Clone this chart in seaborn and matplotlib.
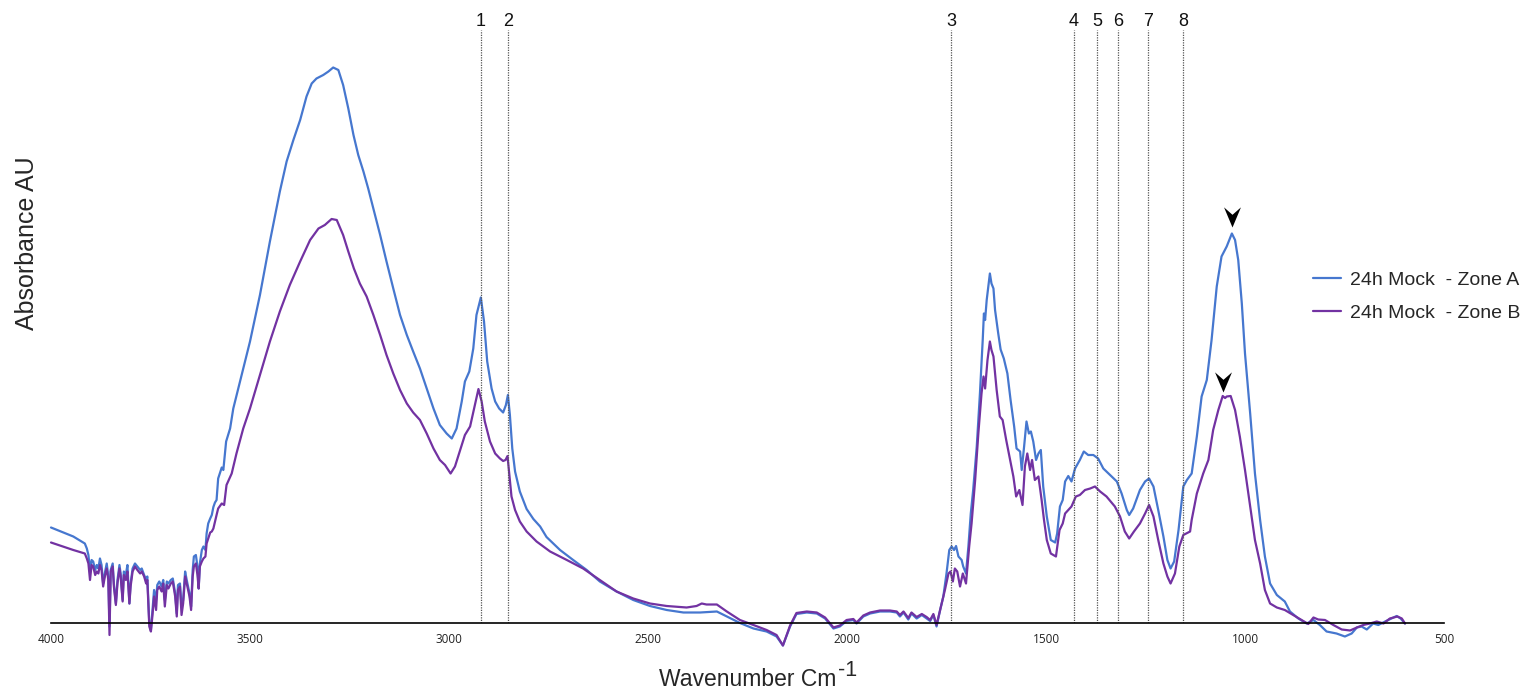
import matplotlib
matplotlib.use("Agg")
import matplotlib.pyplot as plt
import numpy as np
import pandas as pd
import seaborn as sns
from matplotlib.path import Path
from matplotlib.lines import Line2D

# ---- FTIR spectra (wavenumber in cm-1, absorbance in arbitrary units) ----
wavenumber_a = [
    4000, 3944, 3915, 3910, 3906, 3902, 3898, 3894, 3889, 3885, 3881, 3877, 3873, 3869,
    3864, 3860, 3856, 3853, 3850, 3845, 3842, 3837, 3833, 3828, 3825, 3820, 3817, 3812,
    3808, 3803, 3800, 3795, 3789, 3783, 3776, 3772, 3766, 3761, 3758, 3753, 3749, 3745,
    3741, 3736, 3733, 3728, 3722, 3718, 3714, 3709, 3705, 3699, 3694, 3688, 3684, 3681,
    3676, 3672, 3668, 3663, 3659, 3652, 3648, 3644, 3641, 3636, 3632, 3629, 3626, 3621,
    3617, 3612, 3609, 3605, 3600, 3596, 3592, 3588, 3584, 3580, 3571, 3567, 3560, 3550,
    3542, 3525, 3500, 3475, 3450, 3425, 3408, 3391, 3374, 3358, 3345, 3333, 3316, 3303,
    3291, 3278, 3266, 3253, 3240, 3228, 3215, 3203, 3190, 3173, 3157, 3140, 3123, 3106,
    3090, 3073, 3056, 3039, 3023, 3006, 2993, 2981, 2968, 2960, 2949, 2939, 2931, 2920,
    2912, 2904, 2893, 2884, 2874, 2864, 2857, 2852, 2847, 2841, 2834, 2822, 2805, 2788,
    2771, 2755, 2721, 2688, 2654, 2621, 2579, 2537, 2495, 2453, 2411, 2369, 2327, 2302,
    2269, 2235, 2202, 2177, 2161, 2143, 2127, 2101, 2076, 2055, 2034, 2018, 2001, 1984,
    1976, 1959, 1942, 1917, 1892, 1875, 1867, 1858, 1846, 1838, 1825, 1812, 1800, 1791,
    1783, 1775, 1766, 1758, 1750, 1743, 1737, 1731, 1726, 1720, 1712, 1708, 1701, 1695,
    1689, 1683, 1674, 1666, 1659, 1656, 1653, 1649, 1645, 1641, 1637, 1632, 1628, 1620,
    1614, 1606, 1597, 1589, 1580, 1574, 1565, 1561, 1555, 1549, 1543, 1538, 1532, 1525,
    1519, 1513, 1507, 1498, 1488, 1477, 1472, 1465, 1458, 1452, 1444, 1436, 1427, 1415,
    1405, 1394, 1381, 1369, 1356, 1339, 1322, 1310, 1297, 1291, 1281, 1264, 1251, 1241,
    1230, 1218, 1205, 1195, 1187, 1178, 1167, 1155, 1146, 1134, 1121, 1109, 1096, 1084,
    1071, 1059, 1046, 1033, 1025, 1017, 1008, 1000, 987, 975, 962, 950, 937, 920,
    900, 887, 866, 845, 828, 812, 795, 770, 749, 732, 719, 707, 694, 678,
    665, 648, 632, 619, 609, 598,
]
absorbance_a = [
    0.191, 0.173, 0.159, 0.149, 0.136, 0.106, 0.126, 0.123, 0.106, 0.116, 0.109, 0.129, 0.116, 0.079,
    0.103, 0.119, 0.093, -0.007, 0.106, 0.119, 0.079, 0.039, 0.086, 0.116, 0.099, 0.046, 0.103, 0.096,
    0.116, 0.039, 0.079, 0.109, 0.119, 0.113, 0.106, 0.109, 0.096, 0.086, 0.093, -0.001, -0.014, 0.026,
    0.066, 0.046, 0.076, 0.083, 0.073, 0.086, 0.046, 0.083, 0.079, 0.086, 0.089, 0.059, 0.019, 0.076,
    0.079, 0.033, 0.046, 0.103, 0.086, 0.059, 0.033, 0.106, 0.133, 0.136, 0.113, 0.069, 0.119, 0.146,
    0.153, 0.146, 0.179, 0.199, 0.209, 0.216, 0.232, 0.241, 0.246, 0.289, 0.311, 0.306, 0.363, 0.389,
    0.429, 0.483, 0.563, 0.656, 0.763, 0.863, 0.923, 0.966, 1.006, 1.053, 1.079, 1.089, 1.096, 1.103,
    1.111, 1.106, 1.076, 1.029, 0.976, 0.936, 0.903, 0.869, 0.829, 0.776, 0.723, 0.669, 0.616, 0.576,
    0.543, 0.509, 0.469, 0.429, 0.396, 0.379, 0.369, 0.389, 0.443, 0.483, 0.503, 0.549, 0.616, 0.651,
    0.603, 0.523, 0.469, 0.443, 0.429, 0.421, 0.436, 0.456, 0.416, 0.349, 0.303, 0.263, 0.228, 0.208,
    0.193, 0.172, 0.146, 0.126, 0.106, 0.083, 0.063, 0.046, 0.034, 0.026, 0.021, 0.021, 0.023, 0.013,
    0.000, -0.011, -0.017, -0.027, -0.045, -0.007, 0.018, 0.021, 0.019, 0.009, -0.011, -0.007, 0.004, 0.006,
    -0.001, 0.013, 0.019, 0.023, 0.023, 0.021, 0.013, 0.021, 0.007, 0.019, 0.009, 0.016, 0.009, 0.004,
    0.016, -0.007, 0.026, 0.053, 0.099, 0.146, 0.153, 0.146, 0.154, 0.133, 0.126, 0.113, 0.099, 0.153,
    0.219, 0.266, 0.353, 0.459, 0.566, 0.619, 0.606, 0.646, 0.673, 0.699, 0.679, 0.669, 0.626, 0.579,
    0.547, 0.529, 0.499, 0.446, 0.393, 0.349, 0.343, 0.306, 0.353, 0.403, 0.379, 0.383, 0.363, 0.326,
    0.339, 0.346, 0.273, 0.213, 0.166, 0.161, 0.179, 0.233, 0.246, 0.283, 0.294, 0.283, 0.309, 0.326,
    0.343, 0.336, 0.336, 0.329, 0.309, 0.296, 0.283, 0.259, 0.226, 0.216, 0.229, 0.266, 0.283, 0.289,
    0.273, 0.226, 0.173, 0.126, 0.109, 0.123, 0.186, 0.273, 0.286, 0.299, 0.373, 0.453, 0.486, 0.566,
    0.673, 0.733, 0.753, 0.779, 0.766, 0.726, 0.639, 0.539, 0.419, 0.299, 0.206, 0.133, 0.079, 0.056,
    0.043, 0.023, 0.009, -0.001, 0.006, -0.004, -0.017, -0.021, -0.027, -0.021, -0.009, -0.007, -0.013, -0.001,
    -0.004, 0.003, 0.009, 0.014, 0.009, -0.001,
]

wavenumber_b = [
    4000, 3944, 3915, 3910, 3906, 3902, 3898, 3894, 3889, 3885, 3881, 3877, 3873, 3869,
    3864, 3860, 3856, 3853, 3850, 3845, 3842, 3837, 3833, 3828, 3825, 3820, 3817, 3812,
    3808, 3803, 3800, 3795, 3789, 3783, 3776, 3772, 3766, 3761, 3758, 3753, 3749, 3745,
    3741, 3736, 3733, 3728, 3722, 3718, 3714, 3709, 3705, 3699, 3694, 3688, 3684, 3681,
    3676, 3672, 3668, 3663, 3659, 3652, 3648, 3644, 3641, 3636, 3632, 3629, 3626, 3621,
    3617, 3612, 3609, 3605, 3600, 3596, 3592, 3588, 3584, 3580, 3571, 3565, 3559, 3546,
    3534, 3517, 3500, 3475, 3450, 3425, 3400, 3374, 3349, 3328, 3312, 3295, 3282, 3266,
    3253, 3239, 3224, 3207, 3190, 3173, 3157, 3140, 3123, 3106, 3090, 3073, 3056, 3039,
    3023, 3010, 2996, 2985, 2972, 2960, 2947, 2937, 2926, 2918, 2910, 2897, 2884, 2872,
    2864, 2858, 2853, 2848, 2843, 2834, 2822, 2805, 2780, 2746, 2704, 2663, 2621, 2579,
    2537, 2495, 2453, 2403, 2378, 2365, 2353, 2327, 2302, 2269, 2235, 2202, 2177, 2161,
    2143, 2127, 2101, 2076, 2055, 2034, 2018, 2001, 1984, 1976, 1959, 1942, 1917, 1892,
    1875, 1867, 1858, 1846, 1838, 1825, 1812, 1800, 1791, 1783, 1775, 1766, 1754, 1745,
    1740, 1734, 1729, 1723, 1716, 1709, 1701, 1693, 1687, 1678, 1670, 1662, 1657, 1653,
    1647, 1641, 1637, 1632, 1624, 1616, 1609, 1600, 1590, 1582, 1575, 1567, 1559, 1553,
    1547, 1540, 1535, 1528, 1519, 1511, 1505, 1498, 1488, 1475, 1466, 1458, 1452, 1444,
    1436, 1425, 1415, 1402, 1389, 1377, 1364, 1348, 1327, 1314, 1302, 1291, 1279, 1264,
    1251, 1241, 1230, 1218, 1205, 1195, 1187, 1176, 1165, 1155, 1138, 1134, 1121, 1105,
    1092, 1080, 1067, 1056, 1050, 1046, 1036, 1025, 1013, 1000, 987, 975, 962, 950,
    937, 920, 900, 879, 858, 841, 828, 816, 799, 778, 757, 736, 719, 703,
    686, 669, 652, 636, 617, 606, 598,
]
absorbance_b = [
    0.161, 0.146, 0.139, 0.129, 0.119, 0.086, 0.116, 0.113, 0.096, 0.103, 0.099, 0.116, 0.106, 0.073,
    0.096, 0.109, 0.086, -0.024, 0.103, 0.113, 0.073, 0.036, 0.079, 0.109, 0.093, 0.043, 0.096, 0.086,
    0.103, 0.039, 0.073, 0.103, 0.113, 0.106, 0.099, 0.103, 0.093, 0.079, 0.086, -0.007, -0.017, 0.016,
    0.053, 0.026, 0.066, 0.073, 0.063, 0.079, 0.033, 0.076, 0.069, 0.079, 0.083, 0.053, 0.013, 0.066,
    0.073, 0.016, 0.039, 0.093, 0.079, 0.053, 0.026, 0.093, 0.113, 0.119, 0.096, 0.069, 0.113, 0.123,
    0.129, 0.133, 0.159, 0.169, 0.181, 0.183, 0.189, 0.203, 0.216, 0.229, 0.239, 0.236, 0.276, 0.299,
    0.339, 0.389, 0.429, 0.496, 0.563, 0.623, 0.676, 0.723, 0.766, 0.789, 0.796, 0.808, 0.806, 0.776,
    0.743, 0.709, 0.679, 0.653, 0.616, 0.576, 0.536, 0.499, 0.466, 0.439, 0.421, 0.406, 0.379, 0.349,
    0.326, 0.316, 0.299, 0.313, 0.346, 0.376, 0.393, 0.429, 0.468, 0.443, 0.403, 0.363, 0.339, 0.329,
    0.324, 0.326, 0.334, 0.293, 0.253, 0.226, 0.203, 0.183, 0.163, 0.143, 0.126, 0.109, 0.086, 0.063,
    0.049, 0.039, 0.034, 0.031, 0.034, 0.039, 0.037, 0.037, 0.023, 0.006, -0.004, -0.014, -0.024, -0.045,
    -0.005, 0.020, 0.023, 0.021, 0.011, -0.009, -0.005, 0.006, 0.008, 0.001, 0.015, 0.021, 0.025, 0.025,
    0.023, 0.016, 0.023, 0.010, 0.021, 0.012, 0.018, 0.012, 0.006, 0.018, -0.004, 0.026, 0.066, 0.099,
    0.103, 0.083, 0.109, 0.103, 0.073, 0.099, 0.079, 0.153, 0.199, 0.286, 0.379, 0.459, 0.493, 0.469,
    0.526, 0.563, 0.546, 0.533, 0.466, 0.413, 0.406, 0.366, 0.326, 0.293, 0.253, 0.266, 0.236, 0.313,
    0.339, 0.306, 0.326, 0.286, 0.293, 0.246, 0.206, 0.166, 0.139, 0.133, 0.186, 0.199, 0.219, 0.226,
    0.233, 0.253, 0.256, 0.266, 0.269, 0.273, 0.263, 0.253, 0.233, 0.213, 0.183, 0.169, 0.183, 0.199,
    0.219, 0.236, 0.213, 0.166, 0.119, 0.093, 0.079, 0.099, 0.153, 0.176, 0.183, 0.206, 0.259, 0.299,
    0.326, 0.386, 0.426, 0.454, 0.450, 0.453, 0.454, 0.426, 0.373, 0.306, 0.233, 0.166, 0.119, 0.066,
    0.039, 0.031, 0.026, 0.016, 0.006, -0.002, 0.011, 0.007, 0.006, -0.004, -0.013, -0.015, -0.009, -0.004,
    -0.001, 0.003, -0.001, 0.009, 0.013, 0.009, -0.001,
]

series_names = ["24h Mock  - Zone A", "24h Mock  - Zone B"]
series_colors = ["#4677CF", "#7232A2"]

band_positions = [2920, 2852, 1739, 1430, 1372, 1318, 1243, 1155]
band_labels = ["1", "2", "3", "4", "5", "6", "7", "8"]

x_ticks = [4000, 3500, 3000, 2500, 2000, 1500, 1000, 500]

marker_wavenumbers = [1032, 1055]
marker_absorbances = [0.792, 0.463]

# ---- long-form table for seaborn ----
df = pd.concat([
    pd.DataFrame({"wavenumber": wavenumber_a, "absorbance": absorbance_a, "zone": series_names[0]}),
    pd.DataFrame({"wavenumber": wavenumber_b, "absorbance": absorbance_b, "zone": series_names[1]}),
], ignore_index=True)

sns.set_theme(style="white")
plt.rcParams["font.family"] = ["Liberation Sans", "DejaVu Sans"]

W, H = 1528, 689
fig = plt.figure(figsize=(W / 100, H / 100), dpi=100)
ax = fig.add_axes([51 / W, 1 - 623 / H, 1393 / W, 623 / H])

sns.lineplot(data=df, x="wavenumber", y="absorbance", hue="zone",
             palette=series_colors, hue_order=series_names,
             estimator=None, sort=False, linewidth=1.6, clip_on=False,
             legend=False, ax=ax)

ax.set_xlim(4000, 500)
ax.set_ylim(0, 1.246)

# band markers
ax.vlines(band_positions, 0, 1.186, colors="#555555", linestyles=(0, (1, 1)), linewidth=0.9)
for pos, lab in zip(band_positions, band_labels):
    ax.text(pos, 1.204, lab, ha="center", va="center", fontsize=13, color="#111111")

# arrowheads above the 1030-1060 cm-1 peaks
arrow = Path([(0, 0), (-0.42, 1.0), (0, 0.63), (0.42, 1.0), (0, 0)],
             [Path.MOVETO, Path.LINETO, Path.LINETO, Path.LINETO, Path.CLOSEPOLY])
ax.plot(marker_wavenumbers, marker_absorbances, linestyle="none", marker=arrow,
        markersize=29, color="black", markeredgewidth=0, clip_on=False)

# axes styling
for side in ["left", "top", "right"]:
    ax.spines[side].set_visible(False)
ax.spines["bottom"].set_color("black")
ax.spines["bottom"].set_linewidth(1.2)
ax.set_yticks([])
ax.set_xticks(x_ticks)
ax.set_xticklabels([str(t) for t in x_ticks], fontsize=8.5, family="Open Sans", color="#222222")
ax.tick_params(axis="x", length=0, pad=7)
ax.set_xlabel("")
ax.set_ylabel("")

# axis titles
fig.text(836 / W, 1 - 686 / H, "Wavenumber Cm", ha="right", va="baseline", fontsize=16.5)
fig.text(838 / W, 1 - 676 / H, "-1", ha="left", va="baseline", fontsize=15.5)
fig.text(27 / W, 1 - 243 / H, "Absorbance AU", ha="center", va="center", rotation=90, fontsize=18)

handles = [Line2D([], [], color=c, linewidth=1.6) for c in series_colors]
fig.legend(handles, series_names, loc="upper left",
           bbox_to_anchor=(1313 / W, 1 - 271 / H), frameon=False, fontsize=14,
           handlelength=1.45, handletextpad=0.45, labelspacing=0.8,
           borderpad=0, borderaxespad=0)

fig.savefig("out.png", dpi=100)
